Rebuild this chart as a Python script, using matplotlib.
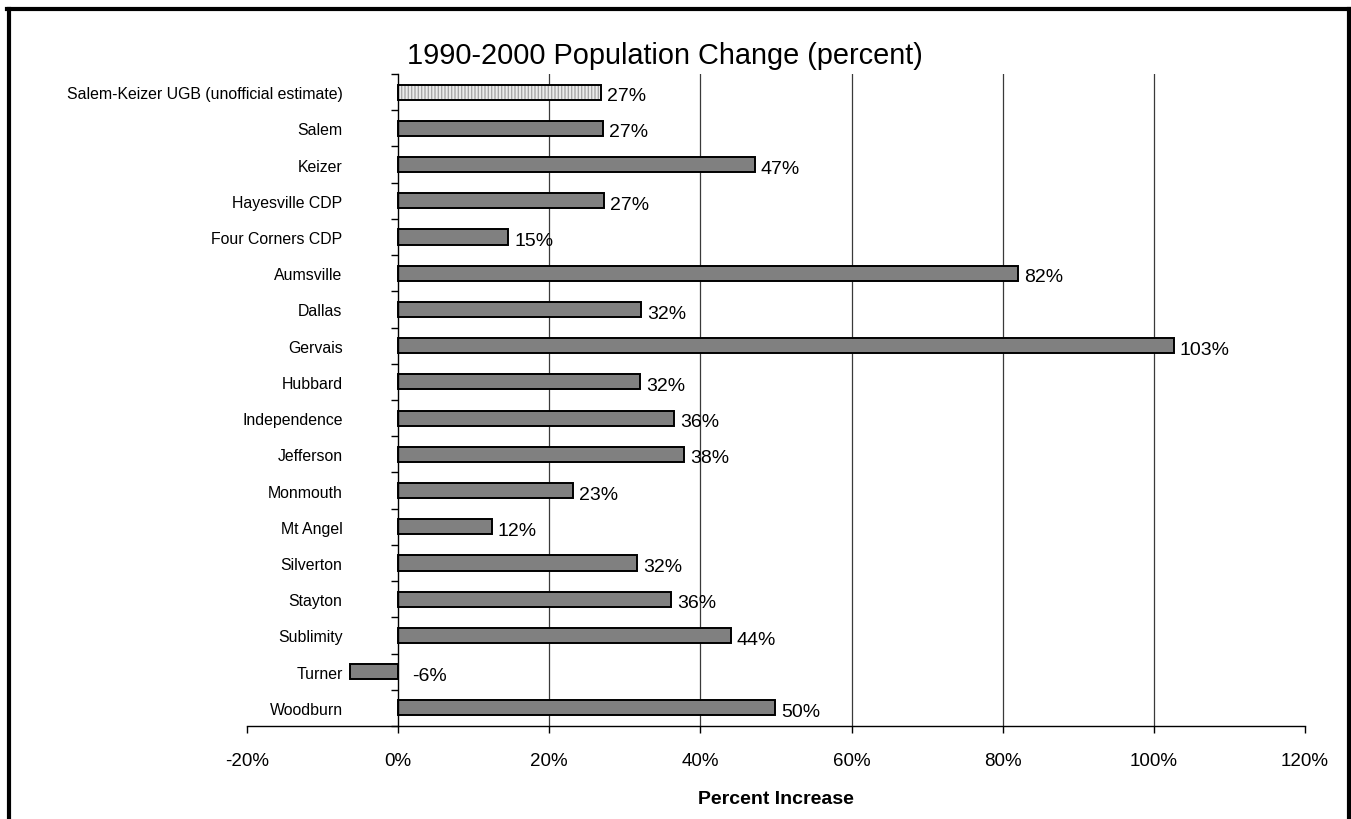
import matplotlib
matplotlib.use("Agg")
import matplotlib.pyplot as plt
from matplotlib.lines import Line2D
from matplotlib.ticker import FixedLocator, FuncFormatter

plt.rcParams["font.family"] = ["Liberation Sans", "DejaVu Sans"]

places = ["Salem-Keizer UGB (unofficial estimate)", "Salem", "Keizer",
          "Hayesville CDP", "Four Corners CDP", "Aumsville", "Dallas",
          "Gervais", "Hubbard", "Independence", "Jefferson", "Monmouth",
          "Mt Angel", "Silverton", "Stayton", "Sublimity", "Turner",
          "Woodburn"]
change = [26.9, 27.1, 47.2, 27.3, 14.6, 82.0, 32.2, 102.6, 32.0, 36.5,
          37.8, 23.1, 12.4, 31.6, 36.1, 44.0, -6.4, 49.9]
x_ticks = [-20, 0, 20, 40, 60, 80, 100, 120]

fig = plt.figure(figsize=(13.51, 8.20), dpi=100)
ax = fig.add_axes([247 / 1351, 1 - 727 / 820, (1305 - 247) / 1351, (727 - 75) / 820])

ypos = list(range(len(places)))
bar_h = 0.42

# first row is the urban growth boundary estimate, drawn with a light hatch
ax.barh(ypos[0], change[0], height=bar_h, color="#ececec", hatch="|||||",
        edgecolor="#a8a8a8", linewidth=0, zorder=3)
ax.barh(ypos[0], change[0], height=bar_h, facecolor="none",
        edgecolor="black", linewidth=1.4, zorder=4)
ax.barh(ypos[1:], change[1:], height=bar_h, color="#808080",
        edgecolor="black", linewidth=1.4, zorder=3)

for y, v in zip(ypos, change):
    x = max(v, 0) + (1.9 if v < 0 else 0.8)
    ax.text(x, y + 0.1, f"{v:.0f}%", ha="left", va="center", fontsize=14)

ax.set_xlim(-20, 120)
ax.set_ylim(len(places) - 0.5, -0.5)

# vertical gridlines between 0% and 120%
for g in [20, 40, 60, 80, 100]:
    ax.axvline(g, color="#3a3a3a", linewidth=0.9, zorder=1)

for s in ["top", "right"]:
    ax.spines[s].set_visible(False)
ax.spines["left"].set_position(("data", 0))
ax.spines["left"].set_linewidth(1.0)
ax.spines["bottom"].set_linewidth(1.0)
ax.spines["left"].set_zorder(5)

ax.xaxis.set_major_locator(FixedLocator(x_ticks))
ax.xaxis.set_major_formatter(FuncFormatter(lambda v, p: f"{v:.0f}%"))
ax.tick_params(axis="x", direction="out", length=5, width=1.0, pad=14,
               labelsize=13.5)

ax.set_yticks(ypos)
ax.set_yticklabels(places)
ax.tick_params(axis="y", which="major", length=0, pad=40, labelsize=11.4)
ax.yaxis.set_minor_locator(FixedLocator([i - 0.5 for i in range(len(places) + 1)]))
ax.tick_params(axis="y", which="minor", direction="out", length=5, width=1.0)

ax.set_xlabel("Percent Increase", fontsize=14, fontweight="bold", labelpad=15)

fig.text(665 / 1351, 1 - 56 / 820, "1990-2000 Population Change (percent)",
         ha="center", va="center", fontsize=20.8)

# chart border (bottom edge falls off the canvas)
lw = 3.0
fig.add_artist(Line2D([8.5 / 1351, 8.5 / 1351], [0, 1 - 9.5 / 820], transform=fig.transFigure, color="black", linewidth=lw))
fig.add_artist(Line2D([7 / 1351, 1349 / 1351], [1 - 9.5 / 820, 1 - 9.5 / 820], transform=fig.transFigure, color="black", linewidth=lw))
fig.add_artist(Line2D([1348.5 / 1351, 1348.5 / 1351], [0, 1 - 9.5 / 820], transform=fig.transFigure, color="black", linewidth=lw))

fig.savefig("out.png", dpi=100)
